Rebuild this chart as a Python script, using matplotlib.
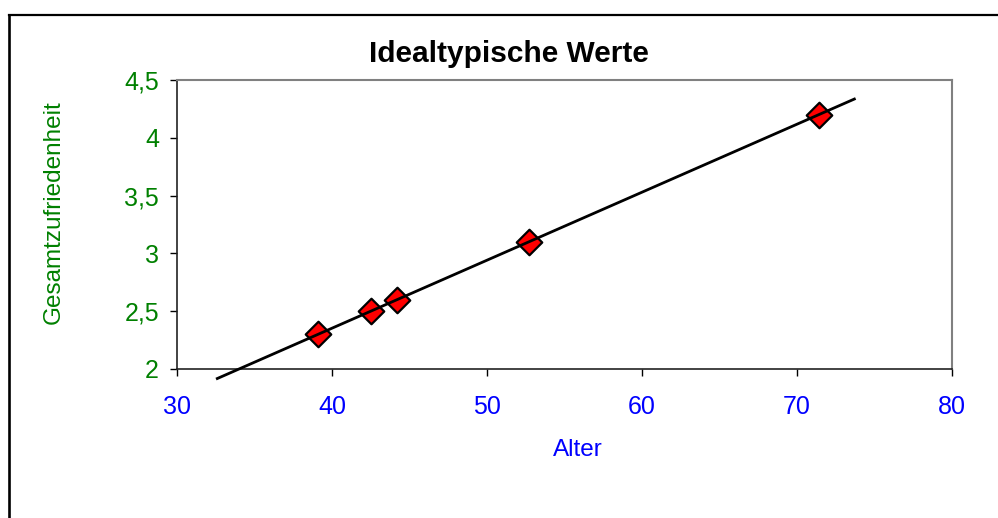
import numpy as np
import matplotlib
matplotlib.use("Agg")
import matplotlib.pyplot as plt
from matplotlib.lines import Line2D

plt.rcParams['font.family'] = ['Liberation Sans', 'DejaVu Sans']

# data
alter = [39.1, 42.5, 44.2, 52.7, 71.4]
zufriedenheit = [2.3, 2.5, 2.6, 3.1, 4.2]
trend_range = [32.6, 73.7]
x_ticks = [30, 40, 50, 60, 70, 80]
y_ticks = [2, 2.5, 3, 3.5, 4, 4.5]
y_tick_labels = ['2', '2,5', '3', '3,5', '4', '4,5']

fig = plt.figure(figsize=(9.98, 5.18), dpi=100)
ax = fig.add_axes([177 / 998, 1 - 369 / 518, 775 / 998, 289 / 518])

ax.scatter(alter, zufriedenheit, marker='D', s=13 ** 2, color='#FF0000',
           edgecolor='black', linewidth=1.6, zorder=3, clip_on=False)

# linear trend line
slope, intercept = np.polyfit(alter, zufriedenheit, 1)
tx = np.array(trend_range)
ax.plot(tx, slope * tx + intercept, color='black', linewidth=2.0,
        zorder=4, clip_on=False)

ax.set_xlim(30, 80)
ax.set_ylim(2, 4.5)
ax.set_xticks(x_ticks)
ax.set_yticks(y_ticks)
ax.set_yticklabels(y_tick_labels)

ax.tick_params(axis='x', colors='black', labelcolor='#0000FF', labelsize=18,
               direction='out', length=5, width=1, pad=14)
ax.tick_params(axis='y', colors='black', labelcolor='#008000', labelsize=18,
               direction='out', length=5, width=1, pad=8)

for side in ['left', 'bottom']:
    ax.spines[side].set_color('#222222')
    ax.spines[side].set_linewidth(1.2)
for side in ['top', 'right']:
    ax.spines[side].set_color('#808080')
    ax.spines[side].set_linewidth(1.5)

ax.set_xlabel('Alter', color='#0000FF', fontsize=17.5)
ax.xaxis.set_label_coords(0.517, -0.242)
ax.set_ylabel('Gesamtzufriedenheit', color='#008000', fontsize=17.5)
ax.yaxis.set_label_coords(-0.145, 0.5415)

ax.text(0.4277, 1.0623, 'Idealtypische Werte', transform=ax.transAxes,
        ha='center', va='baseline', fontsize=21.5, fontweight='bold')

# outer chart frame (only top and left edges visible)
fig.add_artist(Line2D([8.7 / 998, 8.7 / 998], [0, 1 - 15 / 518],
                      transform=fig.transFigure, color='black', linewidth=1.9))
fig.add_artist(Line2D([8.7 / 998, 1], [1 - 15 / 518, 1 - 15 / 518],
                      transform=fig.transFigure, color='black', linewidth=1.6))

fig.savefig('out.png', dpi=100)
